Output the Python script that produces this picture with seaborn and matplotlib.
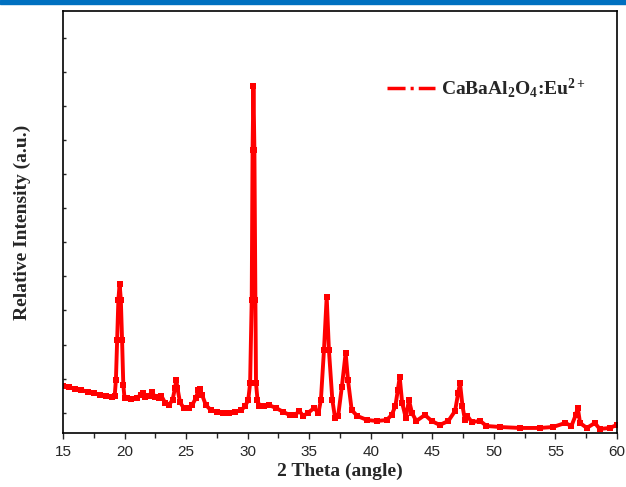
import numpy as np
import pandas as pd
import seaborn as sns
import matplotlib
matplotlib.use("Agg")
import matplotlib.pyplot as plt
from matplotlib.lines import Line2D
from matplotlib.patches import Rectangle
from matplotlib.font_manager import FontProperties

# XRD pattern of CaBaAl2O4:Eu2+ (2-theta in degrees, intensity in counts)
two_theta = [
    15.0, 15.5, 16.0, 16.5, 17.0, 17.5, 18.0, 18.5, 19.0, 19.2,
    19.3, 19.4, 19.5, 19.6, 19.7, 19.8, 19.9, 20.0, 20.2, 20.5,
    21.0, 21.3, 21.5, 21.7, 22.0, 22.2, 22.5, 22.8, 23.0, 23.3,
    23.6, 23.9, 24.1, 24.2, 24.3, 24.5, 24.8, 25.2, 25.5, 25.8,
    26.0, 26.1, 26.3, 26.6, 27.0, 27.5, 28.0, 28.5, 29.0, 29.5,
    29.8, 30.05, 30.2, 30.33, 30.4, 30.47, 30.55, 30.63, 30.68, 30.8,
    30.95, 31.3, 31.7, 32.3, 32.9, 33.4, 33.85, 34.2, 34.5, 34.9,
    35.4, 35.75, 35.95, 36.2, 36.42, 36.6, 36.88, 37.1, 37.35, 37.65,
    37.96, 38.15, 38.45, 38.9, 39.7, 40.5, 41.3, 41.7, 42.0, 42.2,
    42.35, 42.55, 42.85, 43.1, 43.35, 43.7, 44.4, 44.95, 45.6, 46.3,
    46.85, 47.1, 47.25, 47.45, 47.65, 47.85, 48.2, 48.9, 49.4, 50.5,
    52.1, 53.75, 54.8, 55.8, 56.3, 56.65, 56.82, 57.0, 57.55, 58.2,
    58.6, 59.4, 60.0,
]
intensity = [
    691, 676, 647, 632, 603, 588, 559, 544, 529, 544,
    779, 1368, 1956, 2191, 1956, 1368, 706, 515, 515, 500,
    515, 559, 588, 529, 544, 603, 529, 515, 544, 441,
    412, 485, 662, 779, 662, 456, 368, 368, 412, 515,
    632, 647, 559, 412, 338, 309, 294, 294, 309, 338,
    397, 485, 735, 1956, 4162, 5103, 4162, 1956, 735, 485,
    397, 397, 412, 368, 309, 265, 265, 324, 250, 294,
    368, 294, 485, 1221, 2000, 1221, 485, 221, 250, 676,
    1176, 779, 338, 250, 191, 176, 191, 265, 397, 632,
    824, 441, 221, 485, 294, 176, 265, 176, 118, 176,
    324, 588, 735, 397, 191, 250, 162, 176, 103, 88,
    74, 74, 88, 147, 103, 265, 368, 147, 74, 147,
    59, 74, 118,
]
series_label = r"CaBaAl$_\mathbf{2}$O$_\mathbf{4}$:Eu$^\mathbf{2+}$"
x_ticks = [15, 20, 25, 30, 35, 40, 45, 50, 55, 60]

df = pd.DataFrame({"two_theta": two_theta, "intensity": intensity})

sns.set_style("ticks")
plt.rcParams["mathtext.fontset"] = "custom"
plt.rcParams["mathtext.rm"] = "Liberation Serif:bold"
plt.rcParams["mathtext.bf"] = "Liberation Serif:bold"
plt.rcParams["mathtext.it"] = "Liberation Serif:bold:italic"

fig, ax = plt.subplots(figsize=(6.26, 4.87), dpi=100)
fig.subplots_adjust(left=0.1006, right=0.9856, bottom=0.1109, top=0.9774)

# thin blue banner along the top edge
fig.patches.append(Rectangle((0, 1 - 3.5 / 487), 1, 3.5 / 487,
                             transform=fig.transFigure, color="#0070C0",
                             zorder=0))

sns.lineplot(data=df, x="two_theta", y="intensity", ax=ax, color="#FF0000",
             linewidth=2.8, marker="s", markersize=3.8, markeredgewidth=0,
             sort=False, legend=False)

ax.set_xlim(15, 60)
ax.set_ylim(0, 6200)
ax.set_xticks(x_ticks)
ax.set_xticks(np.arange(17.5, 60, 5), minor=True)
ax.set_yticks(np.arange(300, 5900, 500))

for s in ax.spines.values():
    s.set_linewidth(1.2)
    s.set_color("black")

ax.tick_params(axis="x", which="major", direction="out", length=4.5,
               width=1.0, pad=4, labelsize=11, bottom=True, top=False)
ax.tick_params(axis="x", which="minor", direction="out", length=3.5,
               width=1.0, bottom=True, top=False)
ax.tick_params(axis="y", which="major", direction="in", length=2.5,
               width=1.0, left=True, right=False, labelleft=False)
for lab in ax.get_xticklabels():
    lab.set_fontfamily("Liberation Sans")

label_font = dict(family="Liberation Serif", weight="bold", size=14)
ax.set_xlabel("2 Theta (angle)", fontdict=label_font, labelpad=3)
ax.set_ylabel("Relative Intensity (a.u.)", fontdict=label_font, labelpad=23)

handle = Line2D([], [], color="#FF0000", linewidth=2.5,
                linestyle=(0, (5.2, 1.45, 0.9, 1.45)))
ax.legend(handles=[handle], labels=[series_label], loc="center left",
          bbox_to_anchor=(0.585, 0.8175), frameon=False, borderpad=0,
          borderaxespad=0, handlelength=2.46, handletextpad=0.31,
          prop=FontProperties(family="Liberation Serif", weight="bold",
                              size=14))

fig.savefig("out.png", dpi=100)
